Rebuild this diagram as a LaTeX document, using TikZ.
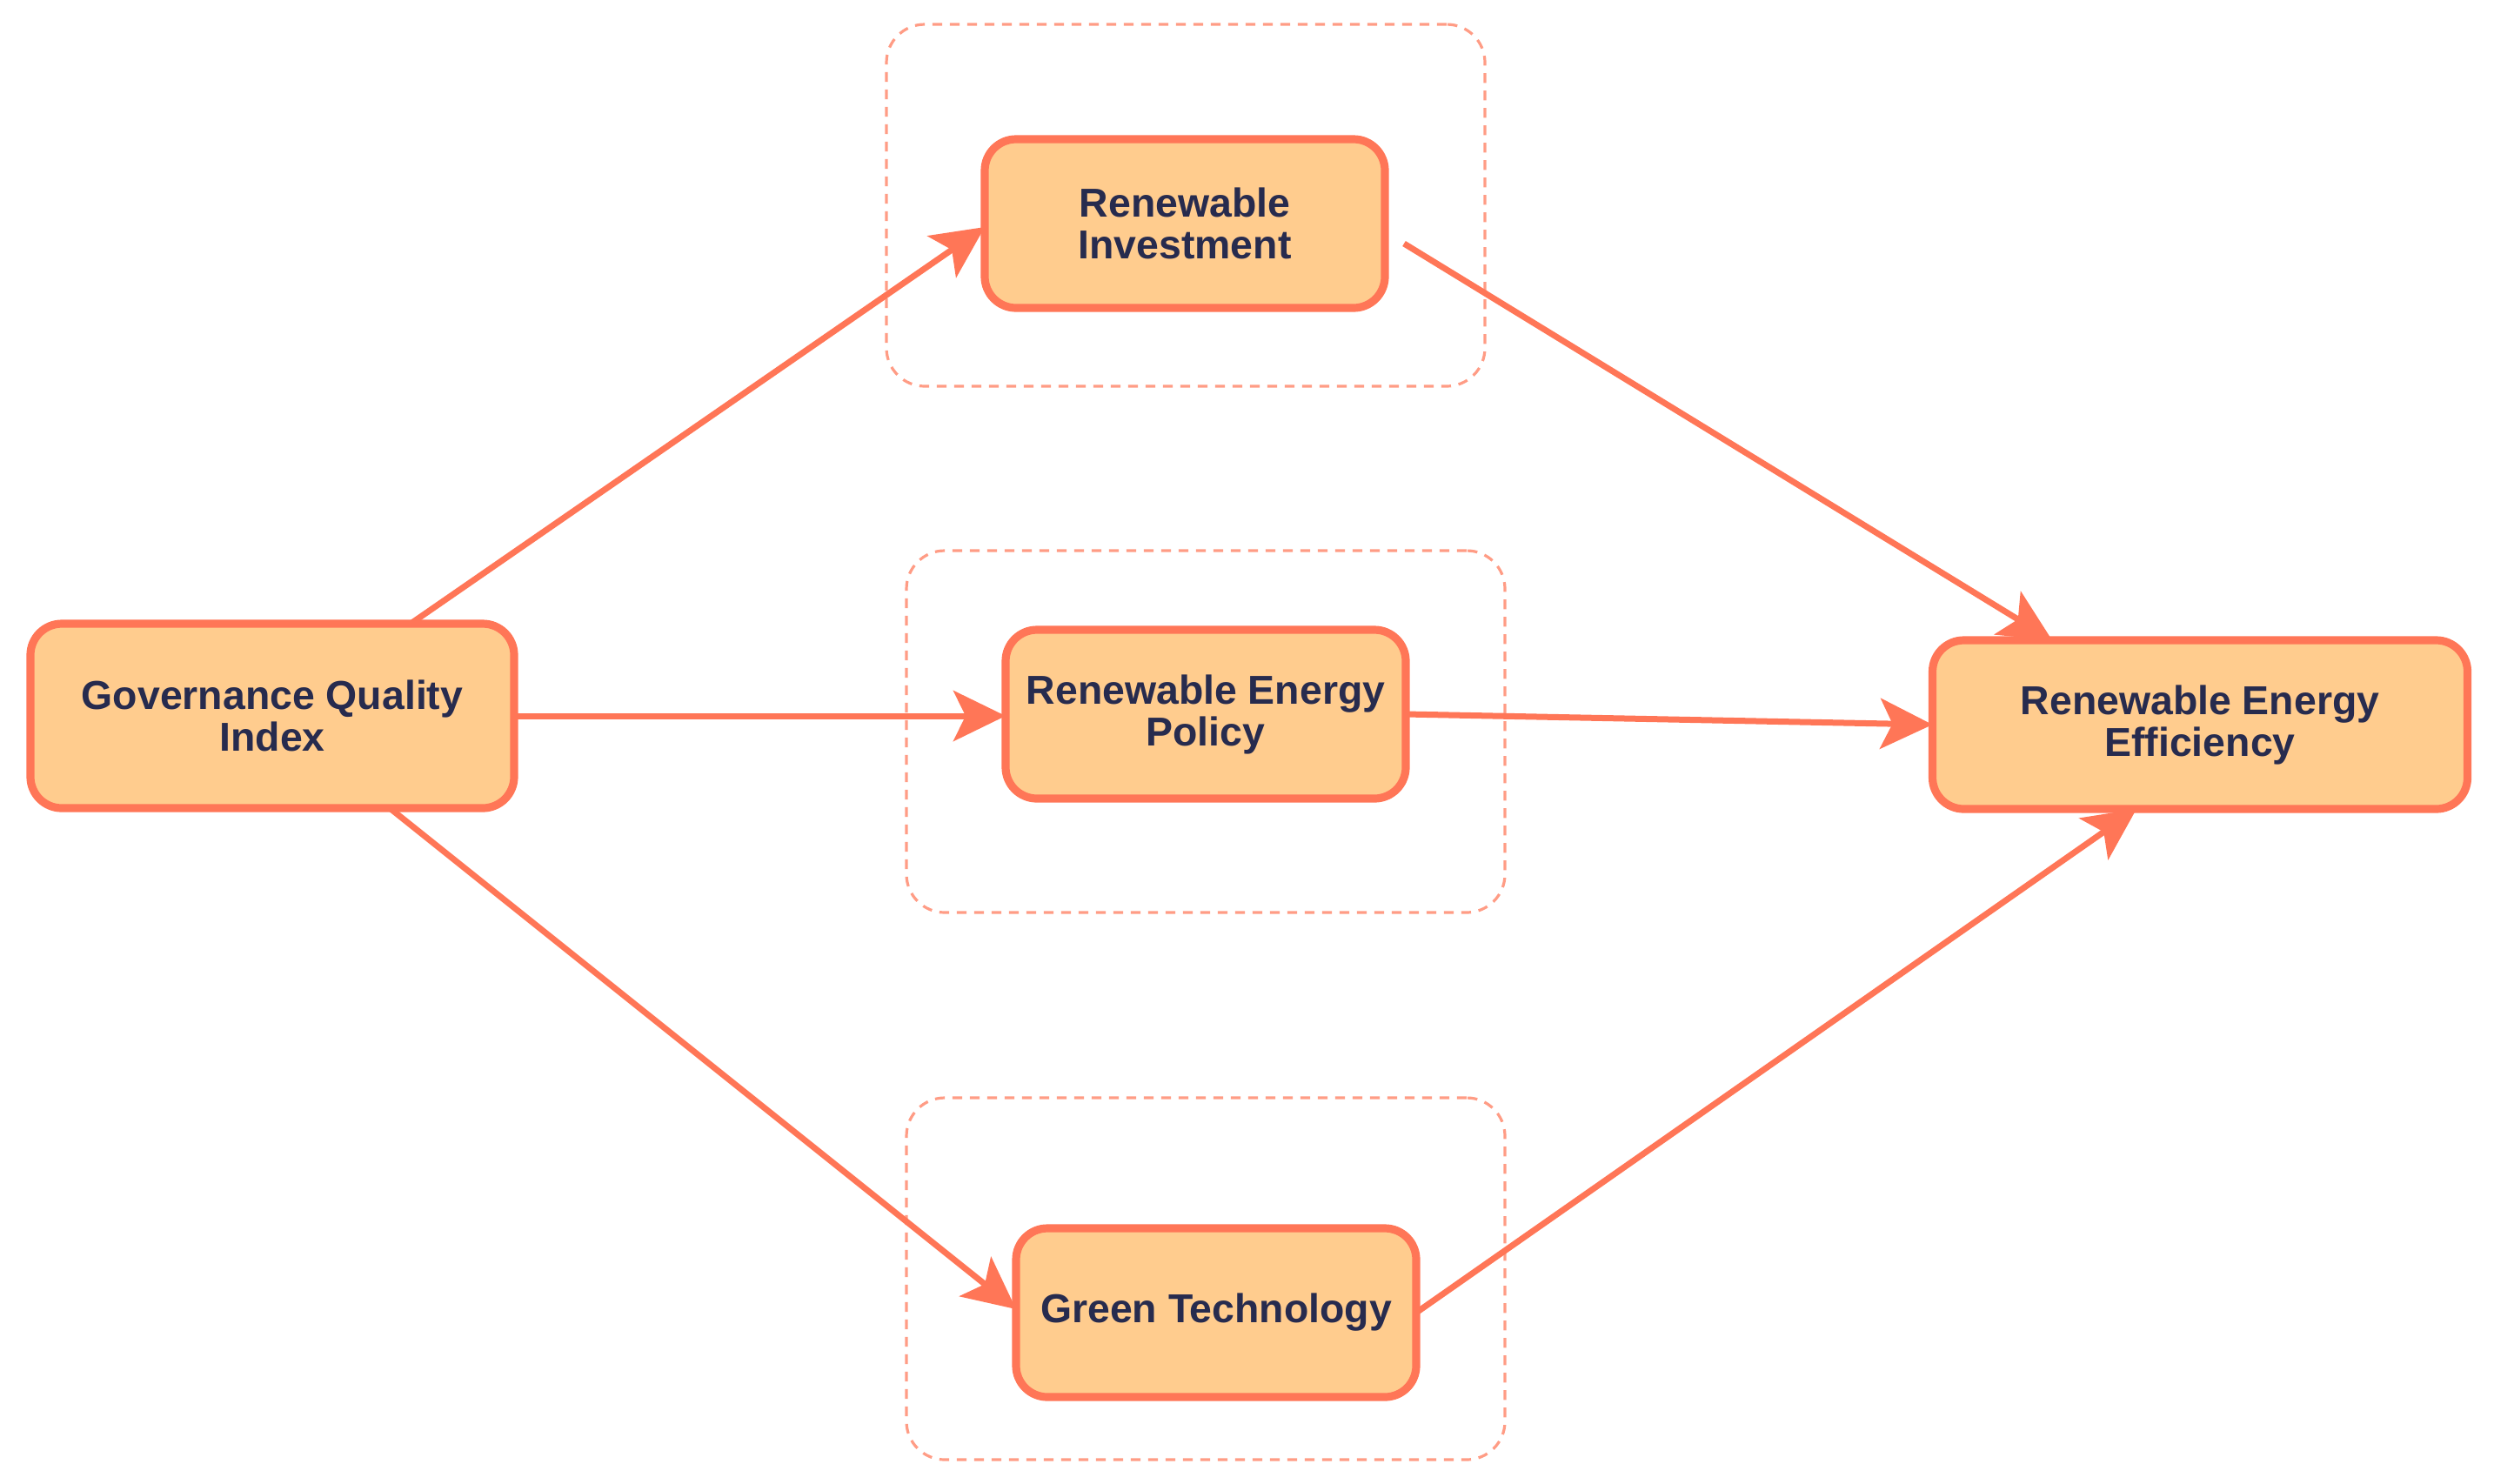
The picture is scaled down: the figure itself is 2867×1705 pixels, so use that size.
\documentclass[tikz,border=0pt]{standalone}
\usepackage{fontspec}
\setmainfont{Liberation Sans}
\usetikzlibrary{arrows.meta,calc}
\definecolor{edgec}{HTML}{FF7657}
\definecolor{boxfill}{HTML}{FFCC8E}
\definecolor{txtc}{HTML}{272B4E}
\definecolor{dashc}{HTML}{FF9C85}
\begin{document}
\begin{tikzpicture}[x=0.25pt,y=-0.25pt,
  varbox/.style={draw=edgec, fill=boxfill, line width=2.3pt, rounded corners=9pt,
    minimum width=115pt, minimum height=48.5pt, inner sep=0pt, outer sep=0pt,
    align=center, font=\fontsize{11.6}{12}\selectfont\bfseries, text=txtc},
  groupbox/.style={draw=dashc, line width=0.8pt, dash pattern=on 2.8pt off 2.2pt,
    rounded corners=11pt, minimum width=172pt, minimum height=104pt,
    inner sep=0pt, outer sep=0pt},
  link/.style={draw=edgec, line width=1.75pt, -{Stealth[length=15pt,width=14.5pt,inset=3.5pt]}}]
\useasboundingbox (0,0) rectangle (2867,1705);
% groups
\node[groupbox] (g1) at (1363,236) {};
\node[groupbox] (g2) at (1386,841) {};
\node[groupbox] (g3) at (1386,1470) {};
% variables
\node[varbox, minimum width=139pt, minimum height=53pt] (gov) at (313,823) {Governance Quality\\Index};
\node[varbox] (inv) at (1362,257) {Renewable\\Investment};
\node[varbox] (pol) at (1386,821) {Renewable Energy\\Policy};
\node[varbox] (grn) at (1398,1509) {Green Technology};
\node[varbox, minimum width=153.75pt] (eff) at (2529,833) {Renewable Energy\\Efficiency};
% links
\draw[link] ($(gov.north)+(159,0)$) -- ($(inv.west)+(0,4)$);
\draw[link] (gov.east) -- (gov.east -| pol.west);
\draw[link] ($(gov.south)+(135,0)$) -- ($(grn.west)+(0,-4)$);
\draw[link] ($(inv.east)+(22,23)$) -- ($(eff.north)+(-170,0)$);
\draw[link] (pol.east) -- (eff.west);
\draw[link] (grn.east) -- ($(eff.south)+(-73,0)$);
\end{tikzpicture}
\end{document}
